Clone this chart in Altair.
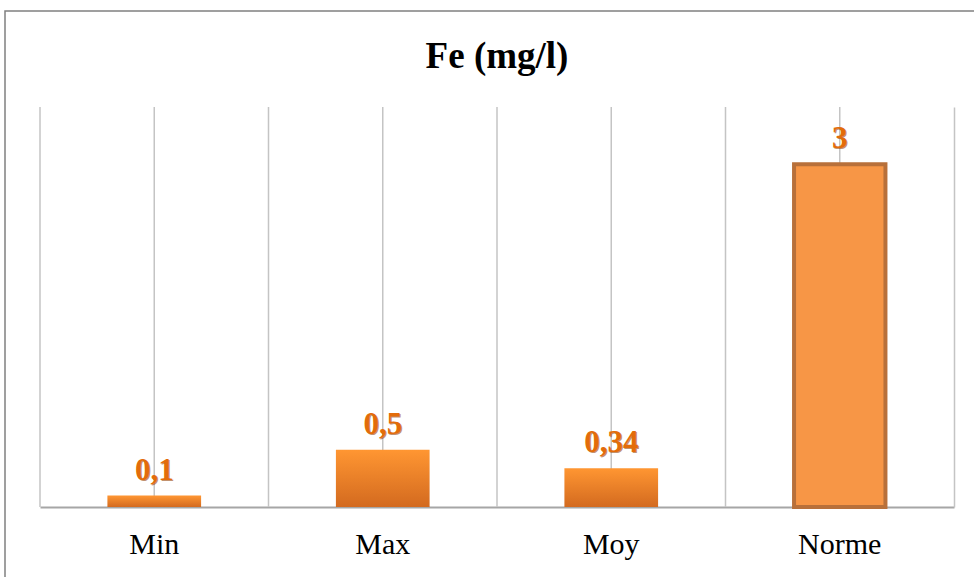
import altair as alt
import pandas as pd

categories = ["Min", "Max", "Moy", "Norme"]
values = [0.1, 0.5, 0.34, 3]
value_labels = ["0,1", "0,5", "0,34", "3"]
bar_style = ["gradient", "gradient", "gradient", "outlined"]

df = pd.DataFrame({"cat": categories, "val": values, "lab": value_labels, "style": bar_style})

SERIF = "Liberation Serif"
GRID = "#C4C4C4"


def xenc(band=0.5):
    return alt.X(
        "cat:N",
        sort=categories,
        bandPosition=band,
        scale=alt.Scale(paddingInner=0, paddingOuter=0),
        axis=alt.Axis(
            title=None, labelAngle=0, labelFont=SERIF, labelFontSize=30,
            labelColor="black", labelBaseline="alphabetic", labelPadding=46,
            ticks=False, tickSize=0, domain=True, domainColor="#A6A6A6",
            domainWidth=2, grid=False,
        ),
    )


yenc = alt.Y(
    "val:Q",
    scale=alt.Scale(domain=[0, 3.5], nice=False, zero=True),
    axis=alt.Axis(orient="right", title=None, labels=False, ticks=False, grid=False,
                  domain=True, domainColor=GRID, domainWidth=1.5),
)

base = alt.Chart(df)

frame = base.mark_rect(filled=False, stroke="#808080", strokeWidth=1.5).encode(
    x=alt.value(-35), x2=alt.value(1000), y=alt.value(-96), y2=alt.value(700)
).transform_filter(alt.datum.cat == "Min")

title_text = base.mark_text(font=SERIF, fontSize=37, fontWeight="bold", color="black",
                            align="center", baseline="alphabetic").encode(
    x=alt.value(457), y=alt.value(-39), text=alt.value("Fe (mg/l)")
).transform_filter(alt.datum.cat == "Min")

grid_edges = base.mark_rule(color=GRID, strokeWidth=1.5).encode(x=xenc(0))
grid_centers = base.mark_rule(color=GRID, strokeWidth=1.5).encode(x=xenc(0.5))

grad = alt.Gradient(
    gradient="linear",
    stops=[alt.GradientStop(color="#FF9632", offset=0),
           alt.GradientStop(color="#D36A1F", offset=1)],
    x1=0, x2=0, y1=0, y2=1,
)

bars_grad = base.mark_bar(color=grad, width=alt.RelativeBandSize(0.41)).encode(
    x=xenc(), y=yenc
).transform_filter(alt.datum.style == "gradient")

bars_out = base.mark_bar(color="#F79646", stroke="#B8703A", strokeWidth=4,
                         width=alt.RelativeBandSize(0.40)).encode(
    x=xenc(), y=yenc
).transform_filter(alt.datum.style == "outlined")

shadow = base.mark_text(dx=1, dy=-15, baseline="alphabetic", font=SERIF, fontSize=31,
                        fontWeight="bold", color="#9A4A10", opacity=0.6).encode(
    x=xenc(), y=yenc, text="lab:N"
)
labels = base.mark_text(dy=-16, baseline="alphabetic", font=SERIF, fontSize=31,
                        fontWeight="bold", color="#E36C0A").encode(
    x=xenc(), y=yenc, text="lab:N"
)

chart = alt.layer(frame, title_text, grid_edges, grid_centers, bars_grad, bars_out, shadow, labels).properties(
    width=914,
    height=400,
    autosize=alt.AutoSizeParams(type="none"),
    padding={"left": 40, "top": 107, "right": 20, "bottom": 70},
    background="white",
).configure_view(stroke="transparent")

chart.save("out.html", embed_options={"renderer": "svg", "actions": False})
